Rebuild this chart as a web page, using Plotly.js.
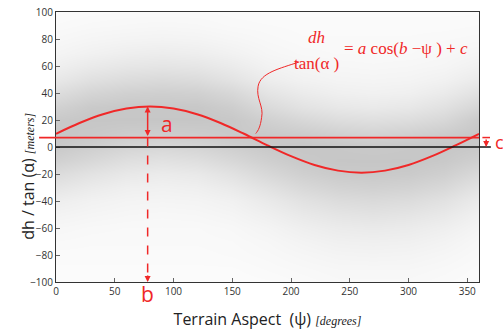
<!DOCTYPE html>
<html><head><meta charset="utf-8">
<script src="https://cdn.plot.ly/plotly-3.0.1.min.js"></script>
<style>html,body{margin:0;padding:0;background:#fff}</style>
</head><body><div id="chart" style="width:503px;height:330px"></div>
<script>
// Point-cloud density, aspect columns x dh rows
const aspectGrid = [0,30,60,90,120,150,180,210,240,270,300,330,360];
const dhGrid = [-100,-90,-80,-70,-60,-50,-40,-30,-20,-10,0,10,20,30,40,50,60,70,80,90,100];
const density = [
 [.05,.05,.05,.05,.05,.05,.06,.08,.10,.10,.10,.08,.06],
 [.06,.06,.06,.06,.06,.06,.08,.10,.12,.12,.12,.10,.07],
 [.07,.07,.07,.07,.07,.08,.10,.13,.16,.17,.16,.13,.09],
 [.09,.08,.08,.08,.08,.09,.12,.17,.21,.22,.21,.17,.11],
 [.12,.10,.09,.09,.09,.11,.16,.23,.28,.30,.28,.23,.15],
 [.17,.14,.12,.11,.12,.15,.22,.31,.37,.40,.37,.31,.20],
 [.24,.19,.16,.15,.16,.20,.30,.41,.49,.52,.49,.41,.28],
 [.36,.28,.22,.20,.22,.29,.41,.54,.62,.65,.62,.54,.39],
 [.50,.40,.32,.28,.31,.41,.55,.67,.74,.76,.74,.67,.53],
 [.65,.55,.45,.41,.45,.55,.67,.76,.80,.80,.80,.76,.66],
 [.76,.68,.60,.56,.60,.68,.76,.80,.78,.76,.78,.80,.76],
 [.80,.77,.72,.70,.72,.76,.76,.72,.66,.62,.66,.72,.80],
 [.76,.80,.80,.80,.80,.78,.66,.56,.48,.45,.48,.56,.74],
 [.64,.75,.78,.78,.78,.70,.52,.40,.33,.30,.33,.42,.58],
 [.48,.60,.66,.68,.66,.56,.38,.28,.22,.20,.22,.29,.42],
 [.33,.44,.50,.53,.50,.40,.26,.19,.16,.15,.16,.20,.29],
 [.22,.30,.35,.37,.35,.28,.18,.14,.12,.11,.12,.14,.20],
 [.15,.20,.24,.26,.24,.19,.13,.10,.09,.09,.09,.11,.14],
 [.11,.14,.16,.17,.16,.13,.10,.08,.08,.08,.08,.09,.10],
 [.08,.10,.11,.12,.11,.09,.08,.07,.07,.07,.07,.07,.08],
 [.06,.07,.08,.08,.08,.07,.06,.06,.06,.06,.06,.06,.06]
];
// Fitted curve
const curveAspect = [0,20,40,60,80,100,120,140,160,180,200,220,240,260,280,300,320,340,360];
const curveDh = [9.8,17.8,24.3,28.5,30,28.5,24.3,17.8,9.8,1.2,-6.8,-13.3,-17.5,-19,-17.5,-13.3,-6.8,1.2,9.8];
// Parameters
const paramB = 78;      // phase (degrees)
const paramPeak = 30;   // a + c
const paramC = 7;       // offset
const xTicks = [0,50,100,150,200,250,300,350];
const yTicks = [-100,-80,-60,-40,-20,0,20,40,60,80,100];

const RED = '#f02828';
const traces = [
 {type:'heatmap', x:aspectGrid, y:dhGrid, z:density, zsmooth:'best', zmin:0, zmax:1,
  colorscale:[[0,'#ffffff'],[1,'#b8b8b8']], showscale:false, hoverinfo:'skip'},
 {type:'scatter', mode:'lines', x:curveAspect, y:curveDh, line:{color:RED, width:2, shape:'spline'}, hoverinfo:'skip'}
];
const tickFont = {family:'Open Sans, sans-serif', size:10, color:'#333'};
const layout = {
 width:503, height:330, margin:{l:56, r:24, t:12, b:48},
 paper_bgcolor:'#fff', plot_bgcolor:'#fff', showlegend:false,
 xaxis:{range:[0,360], tickvals:xTicks, ticks:'inside', ticklen:4, tickcolor:'#666',
   showline:true, linecolor:'#333', linewidth:1, mirror:true, showgrid:false, zeroline:false,
   tickfont:tickFont,
   title:{text:'Terrain Aspect  (ψ) <span style="font-family:Liberation Serif;font-size:12px"><i>[degrees]</i></span>',
     font:{family:'Open Sans, sans-serif', size:16, color:'#222'}, standoff:18}},
 yaxis:{range:[-100,100], tickvals:yTicks, ticks:'inside', ticklen:4, tickcolor:'#666',
   showline:true, linecolor:'#333', linewidth:1, mirror:true, showgrid:false, zeroline:false,
   tickfont:tickFont},
 shapes:[
  {type:'line', xref:'paper', yref:'y', x0:0, x1:1.028, y0:0, y1:0, line:{color:'#111', width:1.5}},
  {type:'line', xref:'paper', yref:'y', x0:-0.04, x1:1.0, y0:paramC, y1:paramC, line:{color:RED, width:1.8}},
  {type:'line', xref:'x', yref:'y', x0:paramB, x1:paramB, y0:paramC, y1:-97, line:{color:RED, width:1.5, dash:'dash'}},
  {type:'line', xref:'paper', yref:'y', x0:1.008, x1:1.026, y0:paramC, y1:paramC, line:{color:RED, width:1.5}},
  {type:'path', xref:'x', yref:'y', path:'M 207,63 C 190,58 174,55 172,45 C 170,36 177,30 175,22 C 174,15 172,12 170,10',
   line:{color:RED, width:1}}
 ],
 annotations:[
  {xref:'paper', yref:'paper', x:-0.097, y:0.393, textangle:-90, showarrow:false,
   text:'dh / tan (α) <span style="font-family:Liberation Serif;font-size:12px"><i>[meters]</i></span>',
   font:{family:'Open Sans, sans-serif', size:16, color:'#222'}},
  {xref:'x', yref:'y', axref:'x', ayref:'y', x:paramB, y:paramPeak, ax:paramB, ay:paramC, showarrow:true,
   arrowside:'end+start', arrowhead:2, arrowsize:0.8, arrowwidth:1.5, arrowcolor:RED, text:''},
  {xref:'x', yref:'y', axref:'x', ayref:'y', x:paramB, y:-100, ax:paramB, ay:-94, showarrow:true,
   arrowhead:2, arrowsize:0.8, arrowwidth:1.5, arrowcolor:RED, text:''},
  {xref:'paper', yref:'y', x:1.017, y:0, ax:0, ay:-9, showarrow:true,
   arrowhead:2, arrowsize:0.8, arrowwidth:1.5, arrowcolor:RED, text:''},
  {xref:'x', yref:'y', x:88, y:17, text:'a', showarrow:false, xanchor:'left',
   font:{family:'Open Sans, sans-serif', size:21, color:RED}},
  {xref:'x', yref:'paper', x:paramB, y:-0.045, text:'b', showarrow:false, yanchor:'middle',
   font:{family:'Open Sans, sans-serif', size:21, color:RED}},
  {xref:'paper', yref:'y', x:1.033, y:4, text:'c', showarrow:false, xanchor:'left',
   font:{family:'Open Sans, sans-serif', size:18, color:RED}},
  {xref:'paper', yref:'paper', x:0.616, y:0.948, text:'<i>dh</i>', showarrow:false,
   font:{family:'Liberation Serif, serif', size:17, color:RED}},
  {xref:'paper', yref:'paper', x:0.616, y:0.853, text:'tan(α )', showarrow:false,
   font:{family:'Liberation Serif, serif', size:17, color:RED}},
  {xref:'paper', yref:'paper', x:0.675, y:0.909, xanchor:'left', text:'= <i>a</i> cos(<i>b</i> −ψ ) + <i>c</i>', showarrow:false,
   font:{family:'Liberation Serif, serif', size:17, color:RED}}
 ]
};
Plotly.newPlot('chart', traces, layout, {displayModeBar:false, staticPlot:true});
</script></body></html>
